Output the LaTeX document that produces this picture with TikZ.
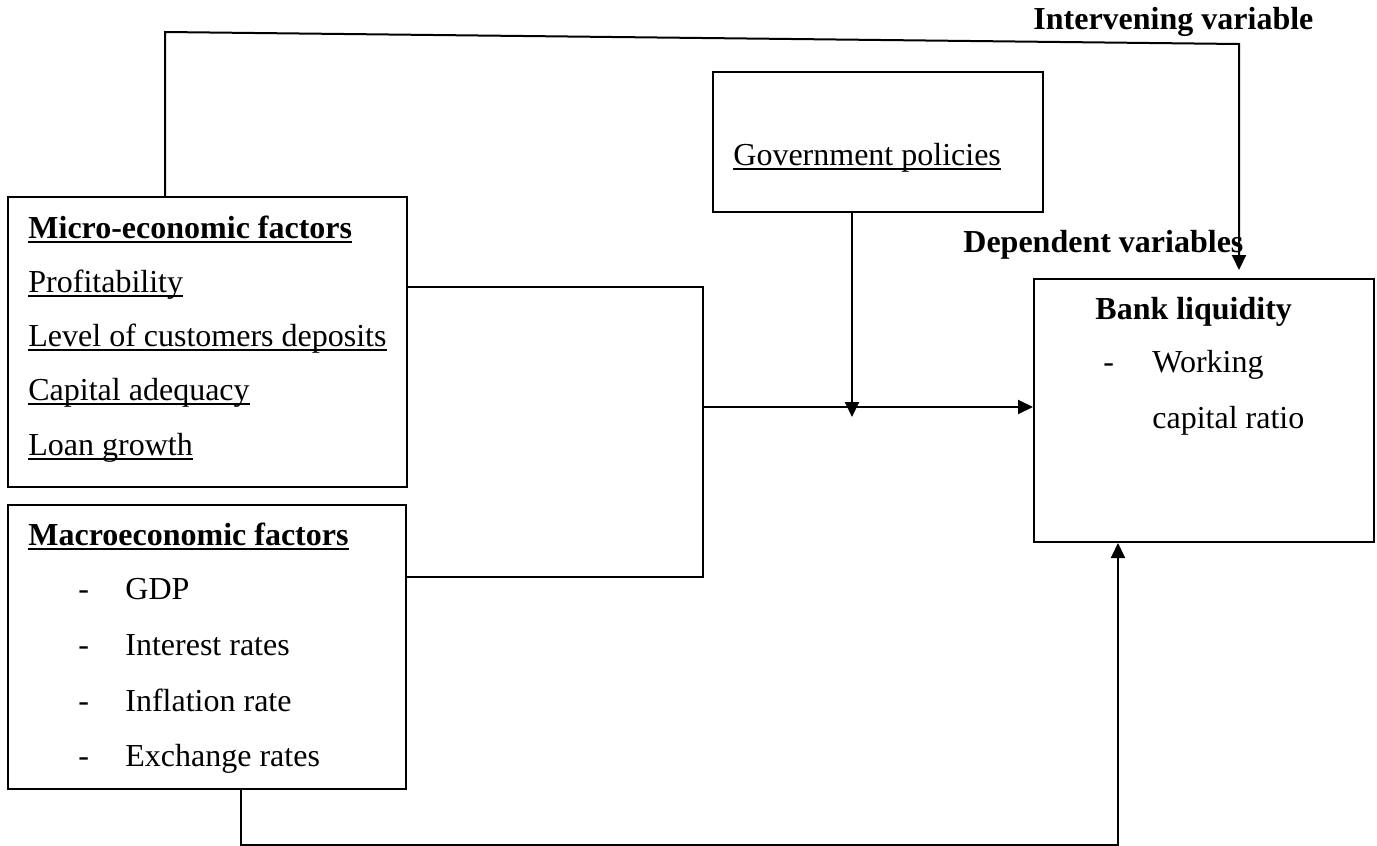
\documentclass[tikz,border=0pt]{standalone}
\usepackage{fontspec}
\setmainfont{Liberation Serif}
\newsavebox\myulbox
\newcommand\myul[1]{\sbox\myulbox{#1}\rlap{\rule[-2.5pt]{\wd\myulbox}{0.9pt}}\usebox\myulbox}
\usetikzlibrary{fit,arrows.meta}
\begin{document}
\begin{tikzpicture}[x=0.5pt,y=-0.5pt,
  box/.style={draw,line width=1pt,inner sep=0pt},
  txt/.style={anchor=base west,inner sep=0pt,font=\fontsize{16}{19}\selectfont},
  btxt/.style={txt,font=\fontsize{16}{19}\selectfont\bfseries},
  link/.style={line width=1pt},
  arr/.style={link,-{Triangle[length=7.5pt,width=7pt]}}]
\useasboundingbox (0,0) rectangle (1377,846);
% boxes
\node[box,fit={(8,197) (407,487)}] (micro) {};
\node[box,fit={(8,505) (406,789)}] (macro) {};
\node[box,fit={(713,72) (1043,212)}] (gov) {};
\node[box,fit={(1034,279) (1374,542)}] (bank) {};
% free texts
\node[btxt] (iv) at (1033,30) {Intervening variable};
\node[btxt] (dv) at (963,252) {Dependent variables};
% government
\node[txt] (gp) at (733,165) {\myul{Government policies}};
% micro
\node[btxt] (mi0) at (28,238) {\myul{Micro-economic factors}};
\node[txt] (mi1) at (28,292) {\myul{Profitability}};
\node[txt] (mi2) at (28,346) {\myul{Level of customers deposits}};
\node[txt] (mi3) at (28,400) {\myul{Capital adequacy}};
\node[txt] (mi4) at (28,455) {\myul{Loan growth}};
% macro
\node[btxt] (ma0) at (28,545) {\myul{Macroeconomic factors}};
\node[txt] (md1) at (78,599) {-};
\node[txt] (ma1) at (125,599) {GDP};
\node[txt] (md2) at (78,655) {-};
\node[txt] (ma2) at (125,655) {Interest rates};
\node[txt] (md3) at (78,711) {-};
\node[txt] (ma3) at (125,711) {Inflation rate};
\node[txt] (md4) at (78,766) {-};
\node[txt] (ma4) at (125,766) {Exchange rates};
% bank
\node[btxt] (bl) at (1095,319) {Bank liquidity};
\node[txt] (bd) at (1103,372) {-};
\node[txt] (bw1) at (1152,372) {Working};
\node[txt] (bw2) at (1152,428) {capital ratio};
% connector points
\coordinate (t1) at (165,32);
\coordinate (t2) at (1239,44);
\coordinate (t3) at (1239,270);
\coordinate (j1) at (703,287);
\coordinate (j2) at (703,577);
\coordinate (j3) at (703,407);
\coordinate (g1) at (852,417);
\coordinate (b1) at (241,845);
\coordinate (b2) at (1118,845);
% connectors
\draw[arr] (micro.north -| t1) -- (t1) -- (t2) -- (t3);
\draw[link] (micro.east |- j1) -- (j1) -- (j2) -- (macro.east |- j2);
\draw[arr] (j3) -- (bank.west |- j3);
\draw[arr] (gov.south -| g1) -- (g1);
\draw[arr] (macro.south -| b1) -- (b1) -- (b2) -- (bank.south -| b2);
\end{tikzpicture}
\end{document}
